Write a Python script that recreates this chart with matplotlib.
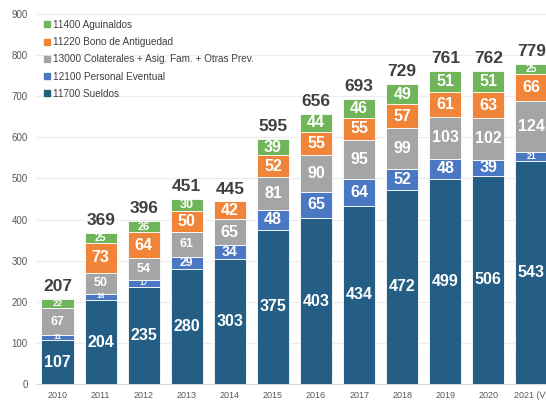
import numpy as np
import matplotlib
matplotlib.use("Agg")
import matplotlib.pyplot as plt
from matplotlib.lines import Line2D

plt.rcParams['font.family'] = ['Liberation Sans', 'DejaVu Sans']

years = ["2010", "2011", "2012", "2013", "2014", "2015", "2016", "2017",
         "2018", "2019", "2020", "2021 (V)"]
sueldos = [107, 204, 235, 280, 303, 375, 403, 434, 472, 499, 506, 543]
eventual = [11, 16, 17, 29, 34, 48, 65, 64, 52, 48, 39, 21]
colaterales = [67, 50, 54, 61, 65, 81, 90, 95, 99, 103, 102, 124]
bono = [0, 73, 64, 50, 42, 52, 55, 55, 57, 61, 63, 66]
aguinaldos = [22, 25, 26, 30, 0, 39, 44, 46, 49, 51, 51, 25]
totals = [207, 369, 396, 451, 445, 595, 656, 693, 729, 761, 762, 779]

series = [
    ("11700 Sueldos", sueldos, "#255e85"),
    ("12100 Personal Eventual", eventual, "#4a78c2"),
    ("13000 Colaterales + Asig. Fam. + Otras Prev.", colaterales, "#a3a5a6"),
    ("11220 Bono de Antiguedad", bono, "#f0853a"),
    ("11400 Aguinaldos", aguinaldos, "#70b55a"),
]

fig = plt.figure(figsize=(5.46, 4.0), dpi=100)
ax = fig.add_axes([36 / 546, 16 / 400, 517 / 546, 370 / 400])

x = np.arange(len(years))
bottom = np.zeros(len(years))
for name, vals, color in series:
    vals = np.array(vals, dtype=float)
    ax.bar(x, vals, 0.745, bottom=bottom, color=color, edgecolor="white",
           linewidth=0.6, zorder=3)
    for i, v in enumerate(vals):
        if v <= 0:
            continue
        # label size follows segment height, like the original
        fs = min(11.5, max(5.5, v * 0.3))
        if name.startswith("13000") and i < 4:
            fs = 9
        ax.text(x[i], bottom[i] + v / 2, f"{int(v)}", ha="center", va="center",
                color="white", fontsize=fs, fontweight="bold", zorder=4)
    bottom += vals

for i, t in enumerate(totals):
    ax.text(x[i], bottom[i] + 12, str(t), ha="center", va="bottom",
            color="#404040", fontsize=12.5, fontweight="bold")

ax.set_xlim(-0.5, len(years) - 0.5)
ax.set_ylim(0, 900)
ax.set_yticks(range(0, 901, 100))
ax.set_xticks(x)
ax.set_xticklabels(years)
ax.tick_params(axis="both", length=0, colors="#595959", labelsize=7)
ax.tick_params(axis="x", labelsize=6.5, pad=5)
ax.tick_params(axis="y", pad=6)
ax.grid(axis="y", color="#ececec", linewidth=0.8, zorder=0)
for s in ["top", "right", "left"]:
    ax.spines[s].set_visible(False)
ax.spines["bottom"].set_color("#d9d9d9")

handles = [Line2D([0], [0], marker="s", linestyle="none", markersize=5,
                  markerfacecolor=c, markeredgecolor=c, label=n)
           for n, _, c in reversed(series)]
ax.legend(handles=handles, loc="upper left", bbox_to_anchor=(0.0, 1.0),
          frameon=False, fontsize=7.2, labelcolor="#404040",
          handletextpad=0.1, labelspacing=0.72, borderaxespad=0.2,
          handlelength=1.0)

fig.savefig("out.png", dpi=100)
